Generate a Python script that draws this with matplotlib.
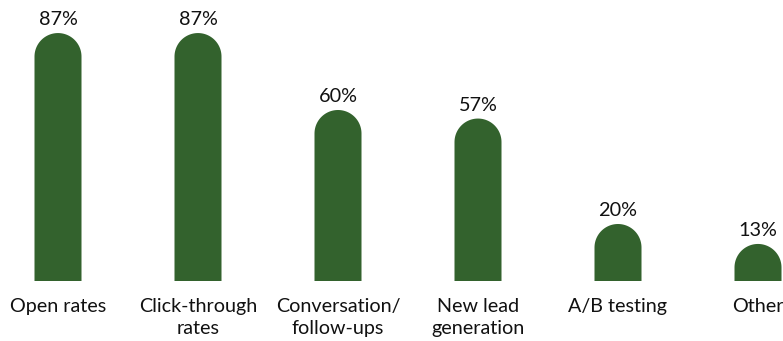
import numpy as np
import matplotlib.pyplot as plt
from matplotlib.patches import Polygon

categories = ["Open rates", "Click-through\nrates", "Conversation/\nfollow-ups",
              "New lead\ngeneration", "A/B testing", "Other"]
values = [87, 87, 60, 57, 20, 13]

BAR_COLOR = "#33622d"
W, H = 783, 341
fig = plt.figure(figsize=(W / 100, H / 100), dpi=100)
ax = fig.add_axes([0, 0, 1, 1])

# pixel layout: bars every 140 px starting at 58 px, baseline 60 px from bottom
px_per_cat = 140.0
px_per_pct = 2.85
x0_px, base_px = 58.0, 60.0
ax.set_xlim(-x0_px / px_per_cat, (W - x0_px) / px_per_cat)
ax.set_ylim(-base_px / px_per_pct, (H - base_px) / px_per_pct)
ax.axis("off")

bar_w = 47 / px_per_cat
rx = bar_w / 2
ry = (47 / 2) / px_per_pct  # radius in y-units so the cap looks round

theta = np.linspace(0, np.pi, 60)
for i, v in enumerate(values):
    top = v - ry
    cap = np.column_stack([i + rx * np.cos(theta), top + ry * np.sin(theta)])
    pts = np.vstack([[i + rx, 0], cap, [i - rx, 0]])
    ax.add_patch(Polygon(pts, closed=True, facecolor=BAR_COLOR, edgecolor="none"))
    ax.text(i, v + 1.6, f"{v}%", ha="center", va="bottom", fontsize=14.3,
            family="Lato", color="#111111")
    ax.text(i, -5.8, categories[i], ha="center", va="top", fontsize=14.2,
            family="Lato", color="#111111", linespacing=1.42)

fig.savefig("out.png", dpi=100)
